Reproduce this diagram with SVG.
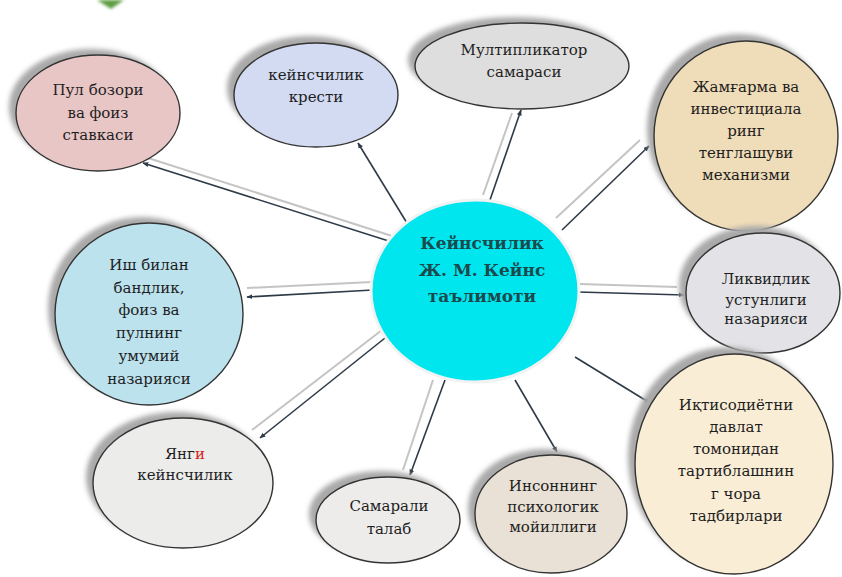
<svg xmlns="http://www.w3.org/2000/svg" width="842" height="577" viewBox="0 0 842 577">
<defs>
<filter id="blur" x="-20%" y="-20%" width="140%" height="140%"><feGaussianBlur stdDeviation="2.5"/></filter>
<filter id="gblur" x="-50%" y="-50%" width="200%" height="200%"><feGaussianBlur stdDeviation="1.5"/></filter>
<marker id="ah" viewBox="0 0 10 10" refX="9" refY="5" markerWidth="6" markerHeight="6" orient="auto" markerUnits="userSpaceOnUse">
<path d="M0,1 L10,5 L0,9 Z" fill="#2f3a48"/>
</marker>
</defs>
<style>
.sh{fill:#a9a9a9;filter:url(#blur)}
.nd{stroke:#333;stroke-width:1.4}
.t{font-family:"DejaVu Serif","Liberation Serif",serif;font-size:15px;fill:#1e1e1e;text-anchor:middle}
.ct{font-family:"DejaVu Serif","Liberation Serif",serif;font-size:17px;font-weight:bold;fill:#1b4a4c;text-anchor:middle}
.dk{stroke:#2f3a48;stroke-width:1.6;fill:none;marker-end:url(#ah)}
.lt{stroke:#c4c4c4;stroke-width:2;fill:none}
</style>
<rect width="842" height="577" fill="#ffffff"/>
<path d="M97,0 L124,0 L111,9 Z" fill="#5f9e45" filter="url(#gblur)"/>

<g id="connectors">
<line class="lt" x1="392" y1="236" x2="148" y2="158"/>
<line class="dk" x1="395" y1="243" x2="143" y2="163"/>
<line class="dk" x1="410" y1="228" x2="358" y2="143"/>
<line class="lt" x1="483" y1="195" x2="512" y2="113"/>
<line class="dk" x1="490" y1="200" x2="521" y2="110"/>
<line class="lt" x1="556" y1="218" x2="640" y2="140"/>
<line class="dk" x1="562" y1="230" x2="649" y2="146"/>
<line class="lt" x1="580" y1="284" x2="677" y2="287"/>
<line class="dk" x1="578" y1="292" x2="684" y2="295"/>
<line class="dk" x1="575" y1="357" x2="650" y2="403"/>
<line class="dk" x1="515" y1="380" x2="557" y2="452"/>
<line class="lt" x1="433" y1="380" x2="403" y2="470"/>
<line class="dk" x1="445" y1="380" x2="410" y2="475"/>
<line class="lt" x1="382" y1="330" x2="252" y2="430"/>
<line class="dk" x1="385" y1="338" x2="260" y2="438"/>
<line class="lt" x1="372" y1="282" x2="247" y2="288"/>
<line class="dk" x1="373" y1="290" x2="247" y2="297"/>
</g>

<g id="center">
<ellipse cx="475" cy="291" rx="104" ry="91" fill="#00e6ef" stroke="#f2f2f2" stroke-width="3"/>
<text class="ct" x="482" y="249">Кейнсчилик</text>
<text class="ct" x="482" y="276">Ж. М. Кейнс</text>
<text class="ct" x="482" y="302">таълимоти</text>
</g>

<g id="n-pul">
<ellipse class="sh" cx="91" cy="107" rx="82" ry="58"/>
<ellipse class="nd" cx="98" cy="113" rx="82" ry="58" fill="#e9c6c6"/>
<text class="t" x="98" y="95">Пул бозори</text>
<text class="t" x="98" y="118">ва фоиз</text>
<text class="t" x="98" y="140">ставкаси</text>
</g>

<g id="n-krest">
<ellipse class="sh" cx="309" cy="88" rx="82" ry="52"/>
<ellipse class="nd" cx="316" cy="95" rx="82" ry="52" fill="#d3dbf2"/>
<text class="t" x="316" y="80">кейнсчилик</text>
<text class="t" x="316" y="102">крести</text>
</g>

<g id="n-mult">
<ellipse class="sh" cx="515" cy="60" rx="107" ry="43"/>
<ellipse class="nd" cx="522" cy="66" rx="107" ry="43" fill="#dedede"/>
<text class="t" x="524" y="55">Мултипликатор</text>
<text class="t" x="524" y="77">самараси</text>
</g>

<g id="n-jam">
<ellipse class="sh" cx="739" cy="129" rx="92" ry="95"/>
<ellipse class="nd" cx="746" cy="136" rx="92" ry="95" fill="#efdcb8"/>
<text class="t" x="746" y="92">Жамғарма ва</text>
<text class="t" x="746" y="114">инвестициала</text>
<text class="t" x="746" y="136">ринг</text>
<text class="t" x="746" y="158">тенглашуви</text>
<text class="t" x="746" y="180">механизми</text>
</g>

<g id="n-likv">
<ellipse class="sh" cx="756" cy="286" rx="77" ry="60"/>
<ellipse class="nd" cx="763" cy="293" rx="77" ry="60" fill="#e3e3e7"/>
<text class="t" x="766" y="284">Ликвидлик</text>
<text class="t" x="766" y="305">устунлиги</text>
<text class="t" x="766" y="324">назарияси</text>
</g>

<g id="n-iqt">
<ellipse class="sh" cx="727" cy="457" rx="99" ry="110"/>
<ellipse class="nd" cx="734" cy="464" rx="99" ry="110" fill="#f9edd6"/>
<text class="t" x="736" y="410">Иқтисодиётни</text>
<text class="t" x="736" y="432">давлат</text>
<text class="t" x="736" y="454">томонидан</text>
<text class="t" x="736" y="476">тартиблашнин</text>
<text class="t" x="736" y="499">г чора</text>
<text class="t" x="736" y="521">тадбирлари</text>
</g>

<g id="n-inson">
<ellipse class="sh" cx="544" cy="508" rx="76" ry="59"/>
<ellipse class="nd" cx="551" cy="514" rx="76" ry="59" fill="#e9e1d5"/>
<text class="t" x="553" y="491">Инсоннинг</text>
<text class="t" x="553" y="512">психологик</text>
<text class="t" x="553" y="532">мойиллиги</text>
</g>

<g id="n-samar">
<ellipse class="sh" cx="381" cy="514" rx="72" ry="43"/>
<ellipse class="nd" cx="388" cy="520" rx="72" ry="43" fill="#edecea"/>
<text class="t" x="389" y="511">Самарали</text>
<text class="t" x="389" y="534">талаб</text>
</g>

<g id="n-yangi">
<ellipse class="sh" cx="176" cy="477" rx="90" ry="65"/>
<ellipse class="nd" cx="183" cy="483" rx="90" ry="65" fill="#ececeb"/>
<text class="t" x="185" y="459">Янг<tspan fill="#d42020">и</tspan></text>
<text class="t" x="185" y="480">кейнсчилик</text>
</g>

<g id="n-ish">
<ellipse class="sh" cx="142" cy="308" rx="94" ry="91"/>
<ellipse class="nd" cx="149" cy="314" rx="94" ry="91" fill="#bce2ee"/>
<text class="t" x="149" y="270">Иш билан</text>
<text class="t" x="149" y="293">бандлик,</text>
<text class="t" x="149" y="315">фоиз ва</text>
<text class="t" x="149" y="338">пулнинг</text>
<text class="t" x="149" y="361">умумий</text>
<text class="t" x="149" y="384">назарияси</text>
</g>
</svg>
